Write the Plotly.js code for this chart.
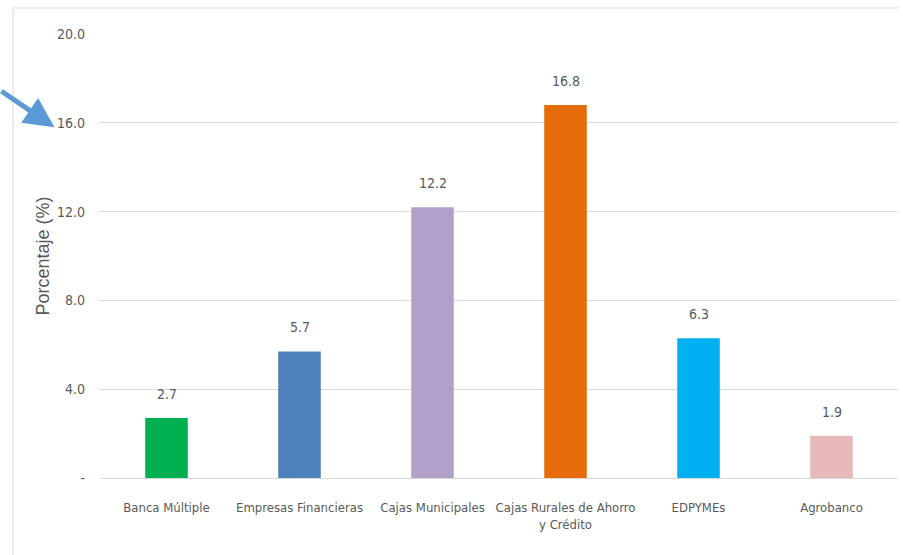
<!DOCTYPE html>
<html><head><meta charset="utf-8">
<script src="https://cdn.plot.ly/plotly-3.0.1.min.js"></script>
<style>html,body{margin:0;padding:0;background:#fff;}#chart{width:903px;height:555px;}</style>
</head><body><div id="chart"></div>
<script>
const categories = ["Banca Múltiple", "Empresas Financieras", "Cajas Municipales", "Cajas Rurales de Ahorro<br>y Crédito", "EDPYMEs", "Agrobanco"];
const values = [2.7, 5.7, 12.2, 16.8, 6.3, 1.9];
const barColors = ["#00B050", "#4F81BD", "#B1A0C7", "#E46C0A", "#00B0F0", "#E6B8B7"];
const tickVals = [0, 4, 8, 12, 16, 20];
const tickText = ["-", "4.0", "8.0", "12.0", "16.0", "20.0"];

const fontFam = "'DejaVu Sans Condensed', 'Liberation Sans Narrow', sans-serif";
const gray = "#595959";

const trace = {
  type: "bar",
  x: categories,
  y: values,
  marker: {color: barColors},
  hoverinfo: "none"
};

const labelAnns = categories.map((c, i) => ({
  x: c, y: values[i], xref: "x", yref: "y",
  text: values[i].toFixed(1), showarrow: false,
  yanchor: "bottom", yshift: 14,
  font: {family: fontFam, size: 14, color: gray}
}));

const arrowAnn = {
  xref: "paper", yref: "y", x: -0.057, y: 15.8,
  axref: "pixel", ayref: "pixel", ax: -57, ay: -37,
  showarrow: true, arrowhead: 2, arrowsize: 1.2, arrowwidth: 5,
  arrowcolor: "#5B9BD5", text: ""
};

const layout = {
  width: 903, height: 555,
  margin: {l: 100, r: 5, t: 34, b: 77},
  paper_bgcolor: "#ffffff", plot_bgcolor: "#ffffff",
  bargap: 0.68,
  showlegend: false,
  xaxis: {
    type: "category",
    tickangle: 0,
    tickfont: {family: fontFam, size: 13, color: gray},
    showgrid: false, showline: false, ticks: "", zeroline: false,
    ticklabelstandoff: 20,
    fixedrange: true
  },
  yaxis: {
    range: [0, 20],
    tickvals: tickVals, ticktext: tickText,
    tickfont: {family: fontFam, size: 14, color: gray},
    showgrid: true, gridcolor: "#D9D9D9", gridwidth: 1,
    zeroline: true, zerolinecolor: "#D9D9D9", zerolinewidth: 1,
    showline: false, ticks: "", ticklabelstandoff: 14,
    title: {text: "Porcentaje (%)", font: {family: "'Liberation Sans', Arial, sans-serif", size: 18, color: gray}, standoff: 2}
  },
  annotations: labelAnns.concat([arrowAnn]),
  shapes: [
    {type: "line", xref: "paper", yref: "paper", x0: -0.109, x1: -0.109, y0: 1.0586, y1: -0.2, line: {color: "#D9D9D9", width: 1}},
    {type: "line", xref: "paper", yref: "paper", x0: -0.109, x1: 1.0, y0: 1.0586, y1: 1.0586, line: {color: "#D9D9D9", width: 1}}
  ]
};

Plotly.newPlot("chart", [trace], layout, {displayModeBar: false, staticPlot: true});
</script>
</body></html>
